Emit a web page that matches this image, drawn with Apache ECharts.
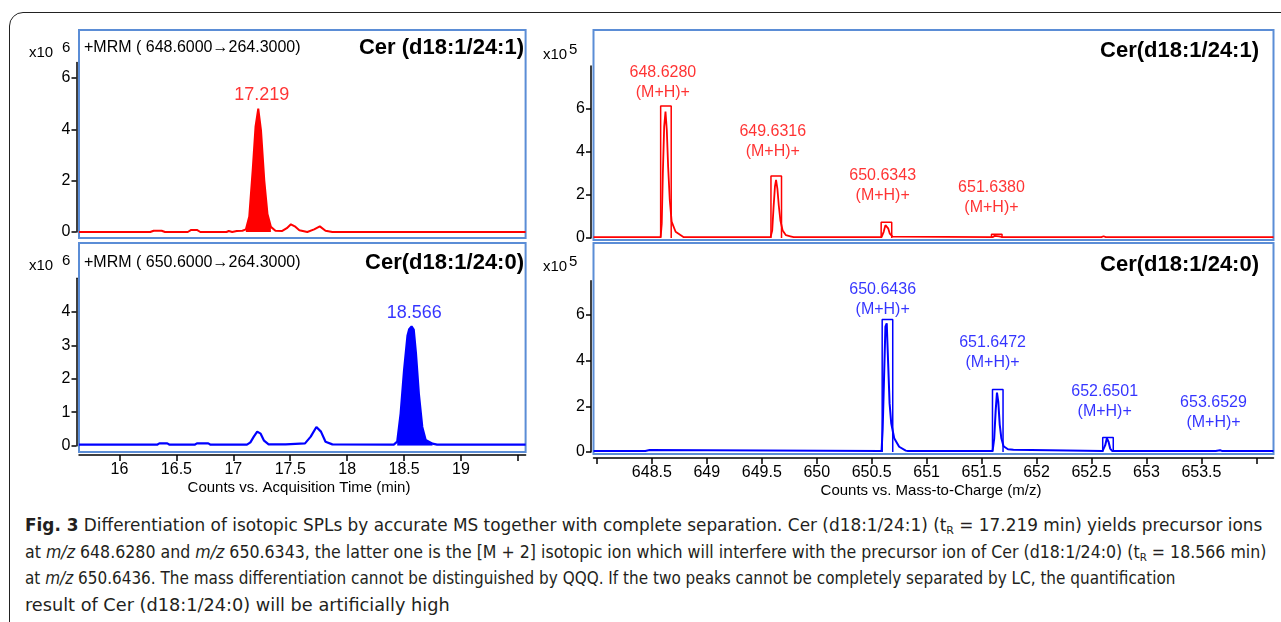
<!DOCTYPE html>
<html>
<head>
<meta charset="utf-8">
<script src="https://cdn.jsdelivr.net/npm/echarts@6/dist/echarts.min.js"></script>
<style>
html, body { margin: 0; padding: 0; background: #fff; }
#wrap { position: relative; width: 1281px; height: 622px; overflow: hidden; }
#frame { position: absolute; left: 9px; top: 12px; width: 1320px; height: 660px; border: 1.5px solid #222; border-radius: 14px; box-sizing: border-box; }
#main { position: absolute; left: 0; top: 0; width: 1281px; height: 505px; }
#caption { position: absolute; left: 25px; top: 512px; color: #231f20; font-family: "DejaVu Sans Condensed", "Liberation Sans Narrow", "Liberation Sans", sans-serif; font-size: 17px; line-height: 26.5px; }
#caption .ln { white-space: nowrap; width: max-content; transform-origin: 0 0; }
#caption sub { font-size: 11px; line-height: 0; vertical-align: -3px; }
</style>
</head>
<body>
<div id="wrap">
  <div id="frame"></div>
  <div id="main"></div>
  <div id="caption">
    <div class="ln"><b>Fig. 3</b> Differentiation of isotopic SPLs by accurate MS together with complete separation. Cer (d18:1/24:1) (t<sub>R</sub> = 17.219 min) yields precursor ions</div>
    <div class="ln">at <i>m/z</i> 648.6280 and <i>m/z</i> 650.6343, the latter one is the [M + 2] isotopic ion which will interfere with the precursor ion of Cer (d18:1/24:0) (t<sub>R</sub> = 18.566 min)</div>
    <div class="ln">at <i>m/z</i> 650.6436. The mass differentiation cannot be distinguished by QQQ. If the two peaks cannot be completely separated by LC, the quantification</div>
    <div class="ln">result of Cer (d18:1/24:0) will be artificially high</div>
  </div>
</div>
<script>
// 色谱图 (x10^6 counts) —— 时间 min
var redTime = [15.644, 16.27, 16.30, 16.37, 16.40, 16.60, 16.63, 16.68, 16.71, 16.80, 16.81, 16.82, 16.94, 16.96, 16.99, 17.03, 17.08, 17.11, 17.14, 17.17, 17.195, 17.219, 17.243, 17.272, 17.30, 17.33, 17.37, 17.43, 17.47, 17.506, 17.54, 17.58, 17.65, 17.71, 17.76, 17.81, 17.87, 19.568];
var redCounts = [0, 0, 0.05, 0.05, 0, 0, 0.08, 0.08, 0, 0, 0.05, 0, 0, 0.04, 0, 0.04, 0.05, 0.1, 0.6, 2.4, 4.1, 4.81, 3.96, 2.0, 0.7, 0.2, 0.05, 0.04, 0.15, 0.3, 0.22, 0.07, 0, 0.1, 0.22, 0.05, 0, 0];
var blueTime = [15.644, 16.33, 16.35, 16.42, 16.44, 16.66, 16.68, 16.78, 16.80, 17.02, 17.03, 17.04, 17.12, 17.15, 17.18, 17.21, 17.24, 17.27, 17.31, 17.46, 17.47, 17.63, 17.68, 17.73, 17.77, 17.81, 17.87, 18.41, 18.44, 18.47, 18.50, 18.53, 18.545, 18.566, 18.585, 18.605, 18.63, 18.66, 18.69, 18.75, 18.79, 19.568];
var blueCounts = [0.03, 0.03, 0.07, 0.07, 0.03, 0.03, 0.07, 0.07, 0.03, 0.03, 0.07, 0.03, 0.03, 0.1, 0.27, 0.42, 0.36, 0.15, 0.04, 0.04, 0.07, 0.07, 0.27, 0.56, 0.42, 0.12, 0.04, 0.03, 0.12, 0.96, 2.25, 3.28, 3.48, 3.56, 3.47, 2.74, 1.55, 0.56, 0.17, 0.06, 0.03, 0.03];
var redFillRange = [17.10, 17.35];
var blueFillRange = [18.42, 18.78];
var timeTicks = [16, 16.5, 17, 17.5, 18, 18.5, 19, 19.5];
var timeLabels = [16, 16.5, 17, 17.5, 18, 18.5, 19];

// 质谱 (x10^5 counts) —— m/z
var redMz = [647.969, 648.58, 648.59, 648.60, 648.612, 648.624, 648.636, 648.648, 648.663, 648.68, 648.716, 648.76, 648.79, 649.58, 649.595, 649.607, 649.62, 649.63, 649.642, 649.655, 649.67, 649.69, 649.72, 649.76, 649.79, 650.59, 650.61, 650.625, 650.635, 650.65, 650.665, 650.69, 651.60, 651.62, 651.635, 651.66, 651.69, 652.59, 652.61, 652.63, 654.156];
var redAbund = [0.04, 0.04, 0.68, 3.0, 5.18, 5.88, 5.02, 3.32, 1.77, 0.76, 0.29, 0.14, 0.04, 0.04, 0.35, 1.4, 2.4, 2.7, 2.3, 1.5, 0.8, 0.35, 0.13, 0.08, 0.04, 0.04, 0.3, 0.6, 0.65, 0.45, 0.2, 0.06, 0.04, 0.1, 0.12, 0.08, 0.04, 0.04, 0.08, 0.04, 0.04];
var blueMz = [647.969, 648.44, 648.45, 648.48, 648.49, 650.59, 650.60, 650.612, 650.625, 650.637, 650.65, 650.663, 650.678, 650.705, 650.75, 650.81, 650.83, 651.60, 651.615, 651.628, 651.64, 651.652, 651.665, 651.68, 651.70, 651.74, 651.79, 651.80, 652.60, 652.625, 652.64, 652.655, 652.67, 652.69, 653.63, 653.645, 653.67, 653.69, 654.156];
var blueAbund = [0.04, 0.04, 0.09, 0.09, 0.04, 0.04, 1.0, 3.15, 5.49, 5.64, 3.88, 2.13, 1.26, 0.6, 0.23, 0.06, 0.04, 0.04, 0.6, 1.8, 2.6, 2.2, 1.2, 0.6, 0.25, 0.12, 0.1, 0.04, 0.04, 0.3, 0.6, 0.45, 0.15, 0.04, 0.04, 0.1, 0.08, 0.04, 0.04];
var redBoxMz = [648.628, 649.6316, 650.6343, 651.638];
var redBoxTop = [6.14, 2.88, 0.73, 0.17];
var blueBoxMz = [650.6436, 651.6472, 652.6501];
var blueBoxTop = [5.81, 2.74, 0.64];
var boxHalfWidth = 0.048;
var mzTicks = [648, 648.5, 649, 649.5, 650, 650.5, 651, 651.5, 652, 652.5, 653, 653.5, 654];
var mzLabels = [648.5, 649, 649.5, 650, 650.5, 651, 651.5, 652, 652.5, 653, 653.5];

// 峰标注
var redPeakText = ['648.6280', '649.6316', '650.6343', '651.6380'];
var redPeakAt = [[648.60, 7.21], [649.60, 4.47], [650.60, 2.42], [651.59, 1.86]];
var bluePeakText = ['650.6436', '651.6472', '652.6501', '653.6529'];
var bluePeakAt = [[650.60, 6.66], [651.60, 4.34], [652.62, 2.23], [653.61, 1.73]];
var rtText = ['17.219', '18.566'];
var rtAt = [[17.25, 5.34], [18.59, 3.95]];

var RED = '#ff0000', BLUE = '#0000ff', FRAME = '#5b8dd6';
var FONT = '"Liberation Sans", Arial, sans-serif';

function pairs(xs, ys) { return xs.map(function (x, i) { return [x, ys[i]]; }); }
function inRange(d, r) { return d.filter(function (p) { return p[0] >= r[0] && p[0] <= r[1]; }); }
function boxes(cs, hs) {
	var d = [];
	cs.forEach(function (c, i) {
		d.push([c - boxHalfWidth, 0], [c - boxHalfWidth, hs[i]], [c + boxHalfWidth, hs[i]], [c + boxHalfWidth, 0], [c + boxHalfWidth, '-']);
	});
	return d;
}

function yAxisFor(grid, max, ticks, offset) {
	return {
		type: 'value', gridIndex: grid, min: 0, max: max, offset: offset,
		axisLine: { show: true, lineStyle: { color: '#000', width: 1.5 } },
		axisTick: { show: true, length: 5, customValues: ticks, lineStyle: { color: '#000', width: 1.5 } },
		axisLabel: { customValues: ticks, margin: 6, color: '#000', fontSize: 16, fontFamily: FONT },
		splitLine: { show: false }
	};
}
function xAxisFor(grid, min, max, ticks, labels, offset, visible) {
	return {
		type: 'value', gridIndex: grid, min: min, max: max, offset: offset, show: visible,
		axisLine: { show: true, onZero: false, lineStyle: { color: '#000', width: 1.5 } },
		axisTick: { show: true, length: 6, customValues: ticks, lineStyle: { color: '#000', width: 1.5 } },
		axisLabel: { customValues: labels, margin: 7, color: '#000', fontSize: 16, fontFamily: FONT },
		splitLine: { show: false }
	};
}
function labelSeries(xi, yi, texts, at, color, size) {
	return {
		type: 'scatter', xAxisIndex: xi, yAxisIndex: yi, symbolSize: 0, silent: true,
		data: texts.map(function (t, i) { return { name: t, value: at[i] }; }),
		label: { show: true, position: 'inside', color: color, fontSize: size, fontFamily: FONT, lineHeight: 20,
			formatter: function (p) { return size > 17 ? p.name : p.name + '\n(M+H)+'; } }
	};
}
function txt(x, y, s, opts) {
	opts = opts || {};
	return { type: 'text', x: x, y: y, z: 10, silent: true,
		style: { text: s, fill: opts.fill || '#000', font: (opts.bold ? 'bold ' : '') + (opts.size || 16) + 'px ' + FONT,
			align: opts.align || 'left', verticalAlign: 'middle' } };
}
function frameRect(x, y, w, h) {
	return { type: 'rect', shape: { x: x, y: y, width: w, height: h }, z: 0, silent: true,
		style: { fill: 'none', stroke: FRAME, lineWidth: 2 } };
}

var redData = pairs(redTime, redCounts), blueData = pairs(blueTime, blueCounts);

var myChart = echarts.init(document.getElementById('main'));
myChart.setOption({
	animation: false,
	grid: [
		{ left: 79, top: 62.6, width: 446.6, height: 169.4 },
		{ left: 79, top: 278.3, width: 446.6, height: 167.4 },
		{ left: 593.5, top: 66, width: 680, height: 172 },
		{ left: 593.5, top: 280.8, width: 680, height: 171.2 }
	],
	xAxis: [
		xAxisFor(0, 15.644, 19.568, timeTicks, timeLabels, 0, false),
		xAxisFor(1, 15.644, 19.568, timeTicks, timeLabels, 9.3, true),
		xAxisFor(2, 647.969, 654.156, mzTicks, mzLabels, 0, false),
		xAxisFor(3, 647.969, 654.156, mzTicks, mzLabels, 6, true)
	],
	yAxis: [
		yAxisFor(0, 6.6, [0, 2, 4, 6], 2.5),
		yAxisFor(1, 5, [0, 1, 2, 3, 4], 2.5),
		yAxisFor(2, 8, [0, 2, 4, 6], 2.5),
		yAxisFor(3, 7.5, [0, 2, 4, 6], 2.5)
	],
	graphic: [
		frameRect(79, 30, 446.6, 208),
		frameRect(79, 243, 446.6, 209),
		frameRect(593.5, 30, 680, 210),
		frameRect(593.5, 243, 680, 211),
		txt(29, 53, 'x10', { size: 15 }), txt(62, 48, '6', { size: 15 }),
		txt(29, 266, 'x10', { size: 15 }), txt(62, 261, '6', { size: 15 }),
		txt(543, 55, 'x10', { size: 15 }), txt(569, 50, '5', { size: 15 }),
		txt(543, 267, 'x10', { size: 15 }), txt(569, 262, '5', { size: 15 }),
		txt(84, 48, '+MRM ( 648.6000\u2192264.3000)'),
		txt(84, 263, '+MRM ( 650.6000\u2192264.3000)'),
		txt(524, 48, 'Cer (d18:1/24:1)', { bold: true, size: 22, align: 'right' }),
		txt(524, 263, 'Cer(d18:1/24:0)', { bold: true, size: 22, align: 'right' }),
		txt(1259, 51, 'Cer(d18:1/24:1)', { bold: true, size: 22, align: 'right' }),
		txt(1259, 265, 'Cer(d18:1/24:0)', { bold: true, size: 22, align: 'right' }),
		txt(299, 488, 'Counts vs. Acquisition Time (min)', { size: 15, align: 'center' }),
		txt(931, 491, 'Counts vs. Mass-to-Charge (m/z)', { size: 15, align: 'center' })
	],
	series: [
		{ type: 'line', xAxisIndex: 0, yAxisIndex: 0, data: redData, showSymbol: false, clip: false, lineStyle: { color: RED, width: 2 }, z: 3 },
		{ type: 'line', xAxisIndex: 0, yAxisIndex: 0, data: inRange(redData, redFillRange), showSymbol: false, lineStyle: { width: 0 }, areaStyle: { color: RED, opacity: 1 }, z: 2 },
		{ type: 'line', xAxisIndex: 1, yAxisIndex: 1, data: blueData, showSymbol: false, clip: false, lineStyle: { color: BLUE, width: 2.2 }, z: 3 },
		{ type: 'line', xAxisIndex: 1, yAxisIndex: 1, data: inRange(blueData, blueFillRange), showSymbol: false, lineStyle: { width: 0 }, areaStyle: { color: BLUE, opacity: 1 }, z: 2 },
		{ type: 'line', xAxisIndex: 2, yAxisIndex: 2, data: pairs(redMz, redAbund), showSymbol: false, clip: false, lineStyle: { color: RED, width: 1.8 }, z: 3 },
		{ type: 'line', xAxisIndex: 2, yAxisIndex: 2, data: boxes(redBoxMz, redBoxTop), showSymbol: false, connectNulls: false, clip: false, lineStyle: { color: RED, width: 1.5 }, z: 3 },
		{ type: 'line', xAxisIndex: 3, yAxisIndex: 3, data: pairs(blueMz, blueAbund), showSymbol: false, clip: false, lineStyle: { color: BLUE, width: 2 }, z: 3 },
		{ type: 'line', xAxisIndex: 3, yAxisIndex: 3, data: boxes(blueBoxMz, blueBoxTop), showSymbol: false, connectNulls: false, clip: false, lineStyle: { color: BLUE, width: 1.5 }, z: 3 },
		labelSeries(0, 0, [rtText[0]], [rtAt[0]], RED, 18),
		labelSeries(1, 1, [rtText[1]], [rtAt[1]], BLUE, 18),
		labelSeries(2, 2, redPeakText, redPeakAt, RED, 16),
		labelSeries(3, 3, bluePeakText, bluePeakAt, BLUE, 16)
	]
});

// 图注每行按原图行宽压缩
var lineWidths = [1237, 1241, 1150, 425];
var lines = document.querySelectorAll('#caption .ln');
for (var i = 0; i < lines.length; i++) {
	lines[i].style.transform = 'scaleX(' + (lineWidths[i] / lines[i].offsetWidth) + ')';
}
</script>
</body>
</html>
